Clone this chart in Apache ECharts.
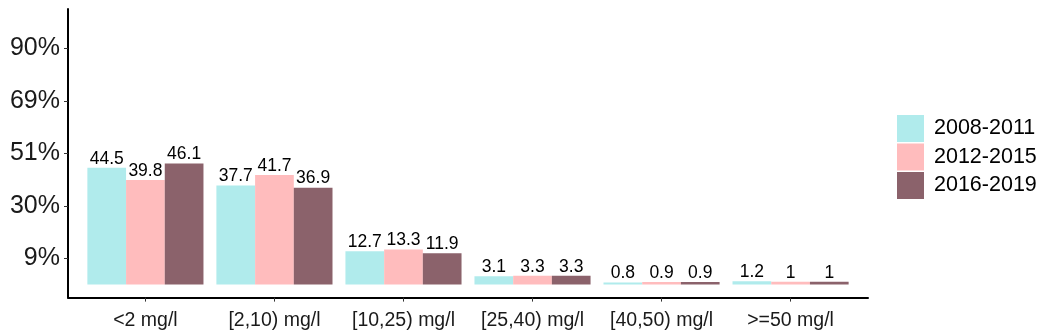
<!DOCTYPE html>
<html>
<head>
<meta charset="utf-8">
<script src="https://cdn.jsdelivr.net/npm/echarts@6/dist/echarts.min.js"></script>
<style>
html,body{margin:0;padding:0;background:#fff;}
#chart{width:1045px;height:334px;}
</style>
</head>
<body>
<div id="chart"></div>
<script>
const categories = ['<2 mg/l', '[2,10) mg/l', '[10,25) mg/l', '[25,40) mg/l', '[40,50) mg/l', '>=50 mg/l'];
const seriesNames = ['2008-2011', '2012-2015', '2016-2019'];
const values2008 = [44.5, 37.7, 12.7, 3.1, 0.8, 1.2];
const values2012 = [39.8, 41.7, 13.3, 3.3, 0.9, 1];
const values2016 = [46.1, 36.9, 11.9, 3.3, 0.9, 1];
const yTickValues = [10, 30, 50, 70, 90];
const yTickLabels = ['9%', '30%', '51%', '69%', '90%'];
const colors = ['#B0EBEC', '#FFBCBD', '#8B626B'];

const FONT = "'Liberation Sans', Arial, sans-serif";
const catPos = categories.map((c, i) => i + 1);

function mk(name, vals, color) {
  return {
    name: name,
    type: 'bar',
    barWidth: 38.7,
    barGap: '0%',
    data: vals.map((v, i) => [catPos[i], v]),
    itemStyle: { color: color },
    label: {
      show: true,
      position: 'top',
      distance: 0,
      color: '#000',
      fontFamily: FONT,
      fontSize: 17.5,
      formatter: p => String(p.value[1])
    }
  };
}

const chart = echarts.init(document.getElementById('chart'), null, { renderer: 'canvas' });
chart.setOption({
  animation: false,
  backgroundColor: '#fff',
  grid: { left: 68, top: 9, width: 800, height: 288.6, containLabel: false },
  legend: {
    orient: 'vertical',
    left: 897,
    top: 115,
    padding: 0,
    itemWidth: 27,
    itemHeight: 27,
    itemGap: 1.5,
    icon: 'rect',
    textStyle: { fontFamily: FONT, fontSize: 21.5, color: '#000', padding: [0, 0, 0, 5] },
    data: seriesNames
  },
  xAxis: {
    type: 'value',
    min: 0.4,
    max: 6.6,
    splitLine: { show: false },
    axisLine: { show: true, onZero: false, lineStyle: { color: '#000', width: 2 } },
    axisTick: { show: true, customValues: catPos, length: 4, lineStyle: { color: '#333', width: 1 } },
    axisLabel: {
      customValues: catPos,
      formatter: v => categories[Math.round(v) - 1],
      color: '#1a1a1a',
      fontFamily: FONT,
      fontSize: 19.5,
      margin: 13
    }
  },
  yAxis: {
    type: 'value',
    min: -5,
    max: 105,
    splitLine: { show: false },
    axisLine: { show: true, onZero: false, lineStyle: { color: '#000', width: 2 } },
    axisTick: { show: true, customValues: yTickValues, length: 4, lineStyle: { color: '#333', width: 1 } },
    axisLabel: {
      customValues: yTickValues,
      formatter: v => yTickLabels[yTickValues.indexOf(Math.round(v))],
      color: '#1a1a1a',
      fontFamily: FONT,
      fontSize: 25,
      margin: 8
    }
  },
  series: [
    mk(seriesNames[0], values2008, colors[0]),
    mk(seriesNames[1], values2012, colors[1]),
    mk(seriesNames[2], values2016, colors[2])
  ]
});
</script>
</body>
</html>
